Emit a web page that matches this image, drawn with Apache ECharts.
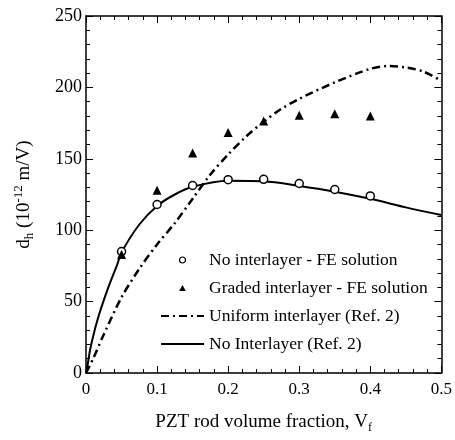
<!DOCTYPE html>
<html><head><meta charset="utf-8">
<script src="https://cdn.jsdelivr.net/npm/echarts@6/dist/echarts.min.js"></script>
<style>html,body{margin:0;padding:0;background:#fff}#c{width:455px;height:440px}</style>
</head><body><div id="c"></div>
<script>
// FE results
const feFrac = [0.05, 0.1, 0.15, 0.2, 0.25, 0.3, 0.35, 0.4];
const noInterFE = [85, 118, 131.3, 135.4, 135.6, 132.7, 128.5, 124];
const gradedFE = [83, 128, 154, 168.5, 176.5, 180.5, 181.5, 180];
// Ref. 2 curves
const uniFrac = [0, 0.01, 0.025, 0.05, 0.075, 0.1, 0.125, 0.15, 0.175, 0.2, 0.225, 0.25, 0.275, 0.3, 0.35, 0.4, 0.425, 0.45, 0.475, 0.5];
const uniRef = [0, 10, 27, 53, 73, 90, 105, 122, 139, 153, 165.5, 176, 185, 192, 203.5, 213, 215, 214, 211, 204.5];
const noFrac = [0, 0.002, 0.0065, 0.016, 0.03, 0.044, 0.05, 0.075, 0.1, 0.125, 0.15, 0.2, 0.25, 0.3, 0.35, 0.4, 0.45, 0.5];
const noRef = [0, 5, 18, 37, 58, 76, 84.5, 104, 117, 125, 130.4, 134.6, 134.2, 131, 127, 122, 116, 110.6];
const xTicks = [0, 0.1, 0.2, 0.3, 0.4, 0.5];
const yTicks = [0, 50, 100, 150, 200, 250];
const names = ['No interlayer - FE solution', 'Graded interlayer - FE solution', 'Uniform interlayer (Ref. 2)', 'No Interlayer (Ref. 2)'];

const zip = (a, b) => a.map((v, i) => [v, b[i]]);
const FONT = 'Liberation Serif';
const chart = echarts.init(document.getElementById('c'));
const tickBase = {inside: true, length: 7, lineStyle: {color: '#000', width: 1}};
const minorBase = {show: true, splitNumber: 5, length: 4, lineStyle: {color: '#000', width: 1}};
const axLine = {show: true, onZero: false, lineStyle: {color: '#000', width: 1.5}};
const hidden = {color: 'rgba(0,0,0,0)', borderWidth: 0};
chart.setOption({
  animation: false,
  backgroundColor: '#fff',
  grid: {left: 86, right: 11, top: 16, bottom: 67},
  legend: {
    orient: 'vertical', left: 155, top: 246, itemWidth: 43, itemHeight: 6, itemGap: 10,
    textStyle: {fontFamily: FONT, fontSize: 17.5, lineHeight: 18, color: '#000'},
    data: [
      {name: names[0], icon: 'circle', itemStyle: {color: '#fff', borderColor: '#000', borderWidth: 1.2}},
      {name: names[1], icon: 'path://M5,0L10,9L0,9Z', itemStyle: {color: '#000', borderWidth: 0}},
      {name: names[2], itemStyle: hidden},
      {name: names[3], itemStyle: hidden}
    ]
  },
  xAxis: [{
    type: 'value', min: 0, max: 0.5, interval: 0.1, position: 'bottom',
    axisLine: axLine, axisTick: tickBase, minorTick: minorBase, splitLine: {show: false},
    axisLabel: {fontFamily: FONT, fontSize: 17, color: '#000', margin: 8,
      formatter: v => { const t = xTicks.find(x => Math.abs(x - v) < 1e-9); return t === undefined ? '' : String(t); }},
    name: 'PZT rod volume fraction, V{s|f}', nameLocation: 'middle', nameGap: 37,
    nameTextStyle: {fontFamily: FONT, fontSize: 19, color: '#000', lineHeight: 24,
      rich: {s: {fontFamily: FONT, fontSize: 12, verticalAlign: 'bottom', lineHeight: 12, color: '#000'}}}
  }, {
    type: 'value', min: 0, max: 0.5, interval: 0.1, position: 'top',
    axisLine: axLine, axisTick: tickBase, minorTick: minorBase, splitLine: {show: false}, axisLabel: {show: false}
  }],
  yAxis: [{
    type: 'value', min: 0, max: 250, interval: 50, position: 'left',
    axisLine: axLine, axisTick: tickBase, minorTick: minorBase, splitLine: {show: false},
    axisLabel: {fontFamily: FONT, fontSize: 18, color: '#000', margin: 4,
      formatter: v => { const t = yTicks.find(y => y === v); return t === undefined ? '' : String(t); }},
    name: 'd{s|h} (10{p|-12} m/V)', nameLocation: 'middle', nameGap: 50,
    nameTextStyle: {fontFamily: FONT, fontSize: 19, color: '#000', lineHeight: 24,
      rich: {
        s: {fontFamily: FONT, fontSize: 13, verticalAlign: 'bottom', lineHeight: 12, color: '#000'},
        p: {fontFamily: FONT, fontSize: 13, verticalAlign: 'top', lineHeight: 12, color: '#000'}
      }}
  }, {
    type: 'value', min: 0, max: 250, interval: 50, position: 'right',
    axisLine: axLine, axisTick: tickBase, minorTick: minorBase, splitLine: {show: false}, axisLabel: {show: false}
  }],
  series: [{
    name: names[0], type: 'scatter', data: zip(feFrac, noInterFE), symbol: 'circle', symbolSize: 8,
    itemStyle: {color: '#fff', borderColor: '#000', borderWidth: 1.5, opacity: 1}, z: 5
  }, {
    name: names[1], type: 'scatter', data: zip(feFrac, gradedFE), symbol: 'triangle', symbolSize: 9,
    itemStyle: {color: '#000', opacity: 1}, z: 5
  }, {
    name: names[2], type: 'line', data: zip(uniFrac, uniRef), smooth: 0.3, showSymbol: false, symbol: 'none',
    lineStyle: {color: '#000', width: 2.5, type: [8, 4, 2, 4]}, itemStyle: {color: '#000'}
  }, {
    name: names[3], type: 'line', data: zip(noFrac, noRef), smooth: 0.3, showSymbol: false, symbol: 'none',
    lineStyle: {color: '#000', width: 2}, itemStyle: {color: '#000'}
  }]
});
</script></body></html>
